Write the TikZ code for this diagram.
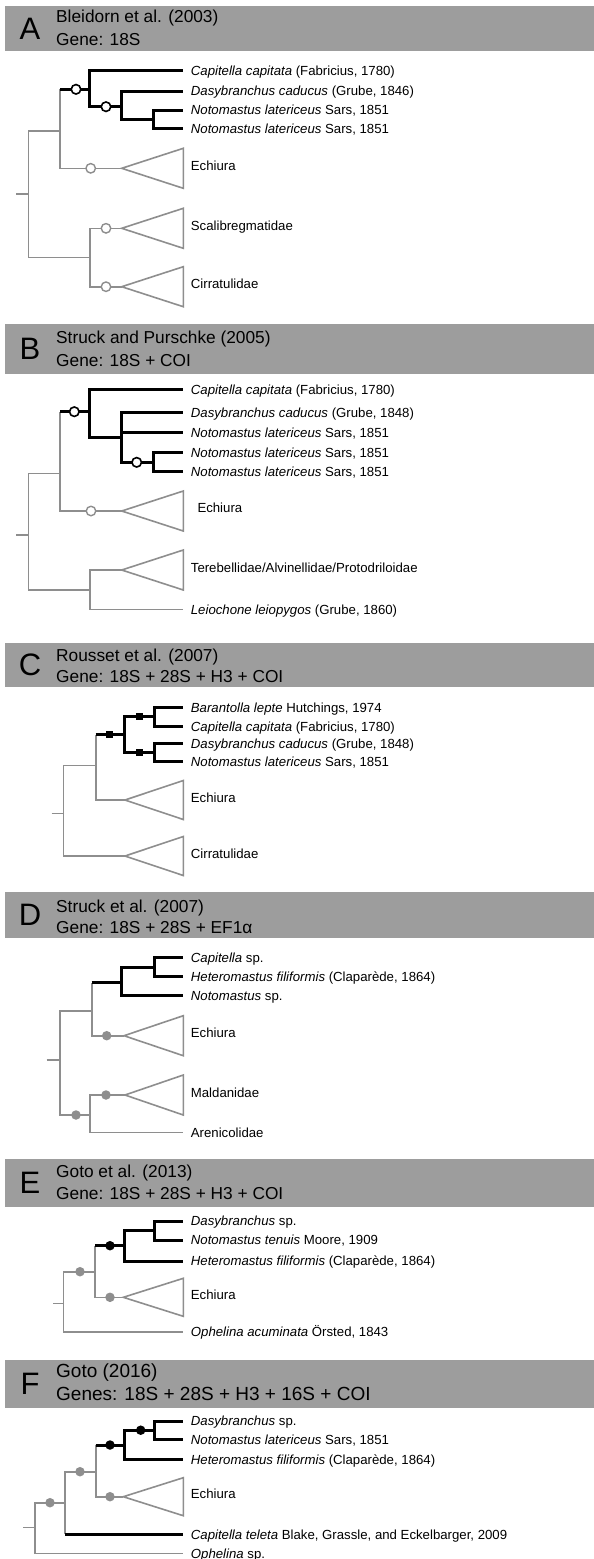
\documentclass[tikz,border=0pt]{standalone}
\usepackage{fontspec}
\setmainfont{Liberation Sans}
\definecolor{lgray}{HTML}{8E8E8E}
\definecolor{bargray}{HTML}{9D9D9D}
\newcommand\myLab{\fontsize{13.2}{15}\selectfont}
\newcommand\myTtl{\fontsize{17.3}{20}\selectfont}
\newcommand\myTtlF{\fontsize{19}{22}\selectfont}
\newcommand\myLet{\fontsize{31}{33}\selectfont}
\begin{document}
\begin{tikzpicture}[x=1pt,y=-1pt,
  gl/.style={draw=lgray, line width=1.6pt},
  bl/.style={draw=black, line width=3pt},
  tri/.style={draw=lgray, line width=1.6pt, line join=miter},
  lab/.style={anchor=west, inner sep=0pt, font=\myLab, text height=9.4pt, text depth=0pt},
  ttl/.style={anchor=base west, inner sep=0pt, font=\myTtl},
  ttlf/.style={anchor=base west, inner sep=0pt, font=\myTtlF},
  letter/.style={inner sep=0pt, font=\myLet},
  bar/.style={fill=bargray},
  oc/.style={circle, draw=black, fill=white, line width=1.6pt, minimum size=9.5pt, inner sep=0pt},
  ogc/.style={circle, draw=lgray, fill=white, line width=1.4pt, minimum size=9.5pt, inner sep=0pt},
  fg/.style={circle, fill=lgray, minimum size=9.5pt, inner sep=0pt},
  fb/.style={circle, fill=black, minimum size=9.5pt, inner sep=0pt},
  sq/.style={rectangle, fill=black, minimum size=7pt, inner sep=0pt}
]
\useasboundingbox[fill=white] (0,0) rectangle (594,1559);

% ================= Panel A =================
\fill[bar] (5,6) rectangle (594,51);
\node[letter] (LA) at (30,28.5) {A};
\node[ttl] (TA1) at (56,22) {Bleidorn et al. (2003)};
\node[ttl] (TA2) at (56,45) {Gene: 18S};

\coordinate (aN34) at (153.3,119.3);
\coordinate (aN2) at (121,106.7);
\coordinate (aN1) at (89.3,89.3);
\coordinate (aIn) at (60,130.7);
\coordinate (aE) at (121.7,168.3);
\coordinate (aS) at (121.7,228.3);
\coordinate (aC) at (121.7,286.7);
\coordinate (aSC) at (90,257.5);
\coordinate (aR) at (28.3,194);
\coordinate (aRs) at (16,194);

\node[lab] (a1) at (190.7,70.3) {\textit{Capitella capitata} (Fabricius, 1780)};
\node[lab] (a2) at (190.7,91) {\textit{Dasybranchus caducus} (Grube, 1846)};
\node[lab] (a3) at (190.7,110) {\textit{Notomastus latericeus} Sars, 1851};
\node[lab] (a4) at (190.7,128.3) {\textit{Notomastus latericeus} Sars, 1851};
\node[lab] (aEl) at (190.7,165.5) {Echiura};
\node[lab] (aSl) at (190.7,225.5) {Scalibregmatidae};
\node[lab] (aCl) at (190.7,283.5) {Cirratulidae};

\draw[bl] (aN34) |- ([xshift=-7.4pt]a3.west);
\draw[bl] (aN34) |- ([xshift=-7.4pt]a4.west);
\draw[bl] (aN2) |- ([xshift=-7.4pt]a2.west);
\draw[bl] (aN2) |- (aN34);
\draw[bl] (aN1) |- ([xshift=-7.4pt]a1.west);
\draw[bl] (aN1) |- (aN2);
\draw[gl] (aIn) -- (aIn |- aN1);
\draw[bl] (aIn |- aN1) -- (aN1);
\draw[gl] (aIn) |- (aE);
\draw[tri] (aE) -- ++(61.6,-20) -- ++(0,40) -- cycle;
\draw[gl] (aSC) |- (aS);
\draw[gl] (aSC) |- (aC);
\draw[tri] (aS) -- ++(61.6,-20) -- ++(0,40) -- cycle;
\draw[tri] (aC) -- ++(61.6,-20) -- ++(0,40) -- cycle;
\draw[gl] (aR) |- (aIn);
\draw[gl] (aR) |- (aSC);
\draw[gl] (aRs) -- (aR);

\node[oc] (aM1) at (76,89.3) {};
\node[oc] (aM2) at (106,106.7) {};
\node[ogc] (aM3) at (90.7,168.3) {};
\node[ogc] (aM4) at (106,228.3) {};
\node[ogc] (aM5) at (106,286.7) {};

% ================= Panel B =================
\fill[bar] (5,323.5) rectangle (594,374);
\node[letter] (LB) at (30,348.75) {B};
\node[ttl] (TB1) at (56,343.5) {Struck and Purschke (2005)};
\node[ttl] (TB2) at (56,366) {Gene: 18S + COI};

\coordinate (bN45) at (153.3,462.3);
\coordinate (bN2) at (121.7,437.7);
\coordinate (bN1) at (89.3,411.7);
\coordinate (bIn) at (60,473.3);
\coordinate (bE) at (121.7,511);
\coordinate (bT) at (121.7,570);
\coordinate (bTL) at (90,590);
\coordinate (bR) at (28.3,535);
\coordinate (bRs) at (16,535);

\node[lab] (b1) at (190.7,389.3) {\textit{Capitella capitata} (Fabricius, 1780)};
\node[lab] (b2) at (190.7,412.7) {\textit{Dasybranchus caducus} (Grube, 1848)};
\node[lab] (b3) at (190.7,432.7) {\textit{Notomastus latericeus} Sars, 1851};
\node[lab] (b4) at (190.7,452.7) {\textit{Notomastus latericeus} Sars, 1851};
\node[lab] (b5) at (190.7,471.7) {\textit{Notomastus latericeus} Sars, 1851};
\node[lab] (bEl) at (197.3,508) {Echiura};
\node[lab] (bTl) at (190.7,567.5) {Terebellidae/Alvinellidae/Protodriloidae};
\node[lab] (b6) at (190.7,609.3) {\textit{Leiochone leiopygos} (Grube, 1860)};

\draw[bl] (bN45) |- ([xshift=-7.4pt]b4.west);
\draw[bl] (bN45) |- ([xshift=-7.4pt]b5.west);
\draw[bl] (bN2) |- ([xshift=-7.4pt]b2.west);
\draw[bl] (bN2) |- ([xshift=-7.4pt]b3.west);
\draw[bl] (bN2) |- (bN45);
\draw[bl] (bN1) |- ([xshift=-7.4pt]b1.west);
\draw[bl] (bN1) |- (bN2);
\draw[gl] (bIn) -- (bIn |- bN1);
\draw[bl] (bIn |- bN1) -- (bN1);
\draw[gl] (bIn) |- (bE);
\draw[tri] (bE) -- ++(61.6,-20) -- ++(0,40) -- cycle;
\draw[gl] (bTL) |- (bT);
\draw[gl] (bTL) |- ([xshift=-7.4pt]b6.west);
\draw[tri] (bT) -- ++(61.6,-20) -- ++(0,40) -- cycle;
\draw[gl] (bR) |- (bIn);
\draw[gl] (bR) |- (bTL);
\draw[gl] (bRs) -- (bR);

\node[oc] (bM1) at (74.3,411.7) {};
\node[oc] (bM2) at (136.7,462.3) {};
\node[ogc] (bM3) at (91,511) {};

% ================= Panel C =================
\fill[bar] (5,643) rectangle (594,687);
\node[letter] (LC) at (30,665) {C};
\node[ttl] (TC1) at (56,661) {Rousset et al. (2007)};
\node[ttl] (TC2) at (56,682) {Gene: 18S + 28S + H3 + COI};

\coordinate (cN12) at (154,716.7);
\coordinate (cN34) at (154,752.7);
\coordinate (cN1) at (124,734.7);
\coordinate (cIn) at (95.7,765.3);
\coordinate (cE) at (125,800);
\coordinate (cC) at (125,856);
\coordinate (cR) at (63.3,813.3);
\coordinate (cRs) at (51.7,813.3);

\node[lab] (c1) at (190.7,707.3) {\textit{Barantolla lepte} Hutchings, 1974};
\node[lab] (c2) at (190.7,726.7) {\textit{Capitella capitata} (Fabricius, 1780)};
\node[lab] (c3) at (190.7,743.3) {\textit{Dasybranchus caducus} (Grube, 1848)};
\node[lab] (c4) at (190.7,761.7) {\textit{Notomastus latericeus} Sars, 1851};
\node[lab] (cEl) at (190.7,797.5) {Echiura};
\node[lab] (cCl) at (190.7,853.5) {Cirratulidae};

\draw[bl] (cN12) |- ([xshift=-7.4pt]c1.west);
\draw[bl] (cN12) |- ([xshift=-7.4pt]c2.west);
\draw[bl] (cN34) |- ([xshift=-7.4pt]c3.west);
\draw[bl] (cN34) |- ([xshift=-7.4pt]c4.west);
\draw[bl] (cN1) |- (cN12);
\draw[bl] (cN1) |- (cN34);
\draw[gl] (cIn) -- (cIn |- cN1);
\draw[bl] (cIn |- cN1) -- (cN1);
\draw[gl] (cIn) |- (cE);
\draw[tri] (cE) -- ++(58.3,-19.5) -- ++(0,39) -- cycle;
\draw[gl] (cR) |- (cIn);
\draw[gl] (cR) |- (cC);
\draw[tri] (cC) -- ++(58.3,-19.5) -- ++(0,39) -- cycle;
\draw[gl] (cRs) -- (cR);

\node[sq] (cM1) at (139.3,716.7) {};
\node[sq] (cM2) at (139.3,752.7) {};
\node[sq] (cM3) at (109.3,734.7) {};

% ================= Panel D =================
\fill[bar] (5,892) rectangle (594,938);
\node[letter] (LD) at (30,915) {D};
\node[ttl] (TD1) at (56,912) {Struck et al. (2007)};
\node[ttl] (TD2) at (56,933) {Gene: 18S + 28S + EF1α};

\coordinate (dN12) at (154,967.2);
\coordinate (dN1) at (121.7,982.5);
\coordinate (dIn) at (91.7,1010.7);
\coordinate (dE) at (124,1035.7);
\coordinate (dM) at (125,1095);
\coordinate (dMA) at (90,1115);
\coordinate (dR) at (60,1060);
\coordinate (dRs) at (46.7,1060);

\node[lab] (d1) at (190.7,957.7) {\textit{Capitella} sp.};
\node[lab] (d2) at (190.7,976.7) {\textit{Heteromastus filiformis} (Claparède, 1864)};
\node[lab] (d3) at (190.7,995.7) {\textit{Notomastus} sp.};
\node[lab] (dEl) at (190.7,1033) {Echiura};
\node[lab] (dMl) at (190.7,1093) {Maldanidae};
\node[lab] (d4) at (190.7,1132.3) {Arenicolidae};

\draw[bl] (dN12) |- ([xshift=-7.4pt]d1.west);
\draw[bl] (dN12) |- ([xshift=-7.4pt]d2.west);
\draw[bl] (dN1) |- (dN12);
\draw[bl] (dN1) |- ([xshift=-7.4pt]d3.west);
\draw[gl] (dIn) -- (dIn |- dN1);
\draw[bl] (dIn |- dN1) -- (dN1);
\draw[gl] (dIn) |- (dE);
\draw[tri] (dE) -- ++(59.3,-20) -- ++(0,40) -- cycle;
\draw[gl] (dMA) |- (dM);
\draw[gl] (dMA) |- ([xshift=-7.4pt]d4.west);
\draw[tri] (dM) -- ++(58.3,-20) -- ++(0,40) -- cycle;
\draw[gl] (dR) |- (dIn);
\draw[gl] (dR) |- (dMA);
\draw[gl] (dRs) -- (dR);

\node[fg] (dM1) at (106.7,1035.7) {};
\node[fg] (dM2) at (106,1095) {};
\node[fg] (dM3) at (76,1115) {};

% ================= Panel E =================
\fill[bar] (5,1159) rectangle (594,1207);
\node[letter] (LE) at (30,1183) {E};
\node[ttl] (TE1) at (56,1177) {Goto et al. (2013)};
\node[ttl] (TE2) at (56,1199) {Gene: 18S + 28S + H3 + COI};

\coordinate (eN12) at (154,1230.5);
\coordinate (eN1) at (124,1245.7);
\coordinate (eIn) at (95,1271.7);
\coordinate (eE) at (123.3,1297.3);
\coordinate (eR) at (63.3,1303.3);
\coordinate (eRs) at (53.3,1303.3);

\node[lab] (e1) at (190.7,1221) {\textit{Dasybranchus} sp.};
\node[lab] (e2) at (190.7,1240) {\textit{Notomastus tenuis} Moore, 1909};
\node[lab] (e3) at (190.7,1261) {\textit{Heteromastus filiformis} (Claparède, 1864)};
\node[lab] (eEl) at (190.7,1295) {Echiura};
\node[lab] (e4) at (190.7,1331.7) {\textit{Ophelina acuminata} Örsted, 1843};

\draw[bl] (eN12) |- ([xshift=-7.4pt]e1.west);
\draw[bl] (eN12) |- ([xshift=-7.4pt]e2.west);
\draw[bl] (eN1) |- (eN12);
\draw[bl] (eN1) |- ([xshift=-7.4pt]e3.west);
\draw[gl] (eIn) -- (eIn |- eN1);
\draw[bl] (eIn |- eN1) -- (eN1);
\draw[gl] (eIn) |- (eE);
\draw[tri] (eE) -- ++(60,-19) -- ++(0,38) -- cycle;
\draw[gl] (eR) |- (eIn);
\draw[gl] (eR) |- ([xshift=-7.4pt]e4.west);
\draw[gl] (eRs) -- (eR);

\node[fb] (eM1) at (110,1245.7) {};
\node[fg] (eM2) at (110,1297.3) {};
\node[fg] (eM3) at (80,1271.7) {};

% ================= Panel F =================
\fill[bar] (5,1360) rectangle (594,1408);
\node[letter] (LF) at (30,1384) {F};
\node[ttlf] (TF1) at (56,1377.5) {Goto (2016)};
\node[ttlf] (TF2) at (56,1400) {Genes: 18S + 28S + H3 + 16S + COI};

\coordinate (fN12) at (154,1430.2);
\coordinate (fN1) at (124,1445);
\coordinate (fIn) at (95.7,1471.7);
\coordinate (fE) at (123.3,1496.7);
\coordinate (fIn2) at (65,1502.7);
\coordinate (fR) at (35,1527.3);
\coordinate (fRs) at (23.3,1527.3);

\node[lab] (f1) at (190.7,1421) {\textit{Dasybranchus} sp.};
\node[lab] (f2) at (190.7,1439.3) {\textit{Notomastus latericeus} Sars, 1851};
\node[lab] (f3) at (190.7,1459.3) {\textit{Heteromastus filiformis} (Claparède, 1864)};
\node[lab] (fEl) at (190.7,1494) {Echiura};
\node[lab] (f4) at (190.7,1534.3) {\textit{Capitella teleta} Blake, Grassle, and Eckelbarger, 2009};
\node[lab] (f5) at (190.7,1553.3) {\textit{Ophelina} sp.};

\draw[bl] (fN12) |- ([xshift=-7.4pt]f1.west);
\draw[bl] (fN12) |- ([xshift=-7.4pt]f2.west);
\draw[bl] (fN1) |- (fN12);
\draw[bl] (fN1) |- ([xshift=-7.4pt]f3.west);
\draw[gl] (fIn) -- (fIn |- fN1);
\draw[bl] (fIn |- fN1) -- (fN1);
\draw[gl] (fIn) |- (fE);
\draw[tri] (fE) -- ++(60,-19) -- ++(0,38) -- cycle;
\draw[gl] (fIn2) |- (fIn);
\draw[gl] (fIn2) -- (fIn2 |- f4.west);
\draw[bl] (fIn2 |- f4.west) -- ([xshift=-7.4pt]f4.west);
\draw[gl] (fR) |- (fIn2);
\draw[gl] (fR) |- ([xshift=-7.4pt]f5.west);
\draw[gl] (fRs) -- (fR);

\node[fb] (fM1) at (140.7,1430.2) {};
\node[fb] (fM2) at (110,1445) {};
\node[fg] (fM3) at (110,1496.7) {};
\node[fg] (fM4) at (80,1471.7) {};
\node[fg] (fM5) at (50,1502.7) {};
\end{tikzpicture}
\end{document}
